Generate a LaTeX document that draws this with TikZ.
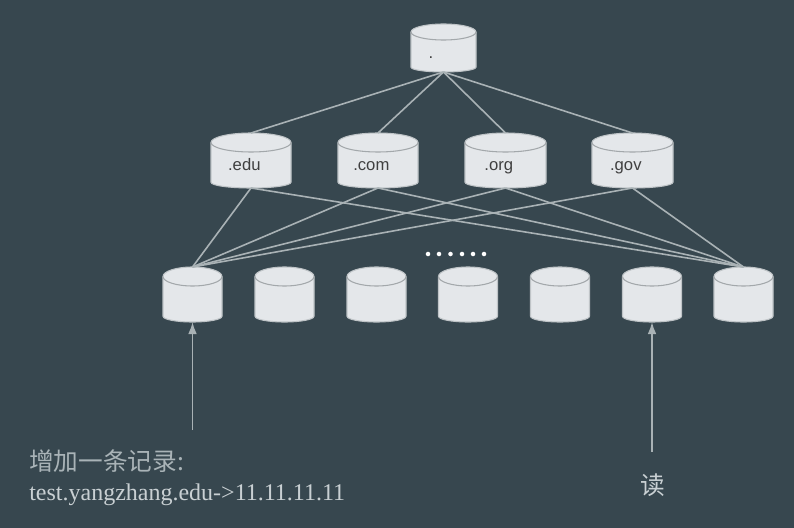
\documentclass[tikz,border=0pt]{standalone}
\usepackage{fontspec}
\setmainfont{Liberation Serif}
\setsansfont{Liberation Sans}
\newfontfamily\cjk{Noto Sans CJK SC}
\usetikzlibrary{arrows.meta}
\definecolor{slate}{HTML}{37474F}
\definecolor{disk}{HTML}{E4E7EA}
\definecolor{diskedge}{HTML}{BFC4C7}
\definecolor{diskrim}{HTML}{A3A8AB}
\definecolor{wire}{HTML}{A9B2B5}
\definecolor{caption}{HTML}{C9D0D3}
\definecolor{captiondim}{HTML}{A9B3B7}
\tikzset{
    dbbody/.style={draw=diskedge, line width=0.8pt, fill=disk, line join=round},
    dbrim/.style={draw=diskrim, line width=0.8pt},
    dbbox/.style={inner sep=0pt, outer sep=0pt, rectangle},
    dbtext/.style={text=black!75, inner sep=0pt, text height=8pt, text depth=2.5pt, font=\sffamily\fontsize{12.5}{14}\selectfont},
    link/.style={draw=wire, line width=1.2pt},
    up/.style={draw=wire, line width=1.2pt, -{Latex[length=9pt,width=6.5pt]}},
    note/.style={text=caption, inner sep=0pt, anchor=base west}
}
% name, centre x, centre y, half width, half height, rim radius, text
\newcommand{\disk}[7]{
    \draw[dbbody] (#2-#4,#3-#5+#6) -- (#2-#4,#3+#5-0.6*#6)
        arc[start angle=180, end angle=360, x radius=#4*0.75pt, y radius=0.6*#6*0.75pt]
        -- (#2+#4,#3-#5+#6)
        arc[start angle=0, end angle=180, x radius=#4*0.75pt, y radius=#6*0.75pt] -- cycle;
    \draw[dbrim] (#2-#4,#3-#5+#6) arc[start angle=180, end angle=360, x radius=#4*0.75pt, y radius=#6*0.75pt];
    \node[dbbox, minimum width=#4*1.5pt, minimum height=#5*1.5pt,
        label={[dbtext, xshift=-5pt, yshift=-5pt]center:#7}] (#1) at (#2,#3) {};
}
\begin{document}
\begin{tikzpicture}[x=0.75pt,y=-0.75pt]
    \fill[slate] (0,0) rectangle (794,528);
    \useasboundingbox (0,0) rectangle (794,528);
    \disk{root}{443.5}{48}{32.5}{24}{8}{.\kern9pt}
    \disk{edu}{251}{160.5}{40}{27.5}{9.5}{.edu}
    \disk{com}{378}{160.5}{40}{27.5}{9.5}{.com}
    \disk{org}{505.5}{160.5}{40.5}{27.5}{9.5}{.org}
    \disk{gov}{632.5}{160.5}{40.5}{27.5}{9.5}{.gov}
    \foreach \i/\x in {1/192.5,2/284.5,3/376.5,4/468,5/560,6/652,7/743.5} {
        \disk{leaf\i}{\x}{294.5}{29.5}{27.5}{9.5}{}
    }
    \foreach \name in {edu,com,org,gov} {
        \draw[link] (root.south) -- (\name.north);
        \draw[link] (\name.south) -- (leaf1.north);
        \draw[link] (\name.south) -- (leaf7.north);
    }
    \foreach \x in {428,439,450.5,462,473,484}
        \fill[white] (\x,254) circle (1.7pt);
    % arrows from below
    \coordinate (addend) at (192.5,430);
    \coordinate (readend) at (652,452);
    \draw[up] (addend) -- (leaf1.south);
    \draw[up] (readend) -- (leaf6.south);
    \node[note, text=captiondim, font=\cjk\fontsize{18.5}{20}\selectfont] (addnote) at (29,470) {增加一条记录:};
    \node[note, font=\fontsize{18}{20}\selectfont] (recnote) at (29,500) {test.yangzhang.edu->11.11.11.11};
    \node[note, font=\cjk\fontsize{18.5}{20}\selectfont] (readnote) at (640,494) {读};
\end{tikzpicture}
\end{document}
